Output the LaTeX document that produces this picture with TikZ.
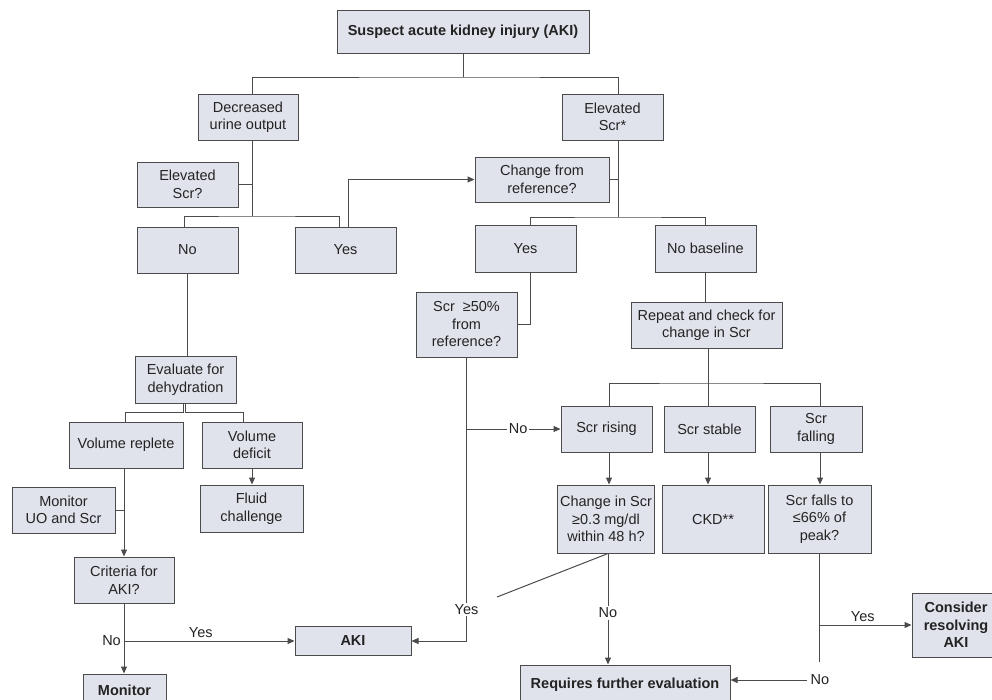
\documentclass[tikz,border=0pt]{standalone}
\usepackage{fontspec}
\setmainfont{Liberation Sans}
\usetikzlibrary{arrows.meta}
\definecolor{boxfill}{RGB}{225,227,236}
\definecolor{edge}{RGB}{75,75,75}
\definecolor{ink}{RGB}{35,35,35}

\begin{document}
\begin{tikzpicture}[x=1pt,y=-1pt,
  every node/.style={font=\fontsize{14.5}{17.5}\selectfont, text=ink},
  box/.style={draw=edge, fill=boxfill, line width=1pt, inner sep=1pt, align=center, anchor=center},
  sz/.style 2 args={minimum width=#1pt, minimum height=#2pt},
  link/.style={draw=edge, line width=1pt},
  arr/.style={link, -{Triangle[length=7pt,width=6pt]}},
  lbl/.style={fill=white, inner sep=1.5pt}
]
\useasboundingbox (0,0) rectangle (992,699);
\clip (0,0) rectangle (992,699);

% ---------- boxes ----------
\node[box, sz={252}{43}] (top) at (463,31.5) {\bfseries Suspect acute kidney injury (AKI)};
\node[box, sz={100}{46}] (duo) at (248,117) {Decreased\\urine output};
\node[box, sz={101}{46}] (es) at (612.5,117) {Elevated\\Scr*};
\node[box, sz={101}{45}] (esq) at (187.5,184.5) {Elevated\\Scr?};
\node[box, sz={134}{45}] (cfr) at (542,179.5) {Change from\\reference?};
\node[box, sz={101}{46}] (no1) at (187.5,250) {No};
\node[box, sz={101}{46}] (yes1) at (345.5,250) {Yes};
\node[box, sz={101}{47}] (yes2) at (525.5,248.5) {Yes};
\node[box, sz={101}{47}] (nob) at (705.5,248.5) {No baseline};
\node[box, sz={101}{65}] (s50) at (466.5,324.5) {Scr~~≥50\%\\from\\reference?};
\node[box, sz={151}{46}] (rep) at (706.5,325) {Repeat and check for\\change in Scr};
\node[box, sz={101}{47}] (evd) at (185.5,379.5) {Evaluate for\\dehydration};
\node[box, sz={114}{46}] (vr) at (126,445) {Volume replete};
\node[box, sz={100}{46}] (vd) at (252,445) {Volume\\deficit};
\node[box, sz={91}{46}] (rising) at (606.5,429) {Scr rising};
\node[box, sz={91}{46}] (stable) at (709.5,429) {Scr stable};
\node[box, sz={92}{46}] (falling) at (816,429) {Scr\\falling};
\node[box, sz={103}{46}] (mus) at (63.5,510) {Monitor\\UO and Scr};
\node[box, sz={103}{47}] (fc) at (251.5,508.5) {Fluid\\challenge};
\node[box, sz={97}{68}] (cis) at (606,519) {Change in Scr\\≥0.3 mg/dl\\within 48 h?};
\node[box, sz={102}{68}] (ckd) at (713,519) {CKD**};
\node[box, sz={103}{68}] (sff) at (819.5,519) {Scr falls to\\≤66\% of\\peak?};
\node[box, sz={100}{46}] (cfa) at (124,580) {Criteria for\\AKI?};
\node[box, sz={116}{29}] (aki) at (353,641) {\bfseries AKI};
\node[box, sz={88}{64}] (cra) at (956,625) {\bfseries Consider\\\bfseries resolving\\\bfseries AKI};
\node[box, sz={83}{32}] (mon) at (124.5,690) {\bfseries Monitor};
\node[box, sz={210}{40}] (rfe) at (625,685) {\bfseries Requires further evaluation};

% ---------- junction points ----------
\coordinate (j1) at (463,77);
\coordinate (j2) at (252,216);
\coordinate (j3) at (618,217);
\coordinate (j4) at (708,383);
\coordinate (dg) at (497,597);
\coordinate (sffend) at (819.5,662);

% ---------- top split ----------
\draw[link] (top.south) -- (j1);
\draw[link] ([xshift=4pt]duo.north) |- (j1) -| ([xshift=5.5pt]es.north);

% ---------- urine output branch ----------
\draw[link] ([xshift=4pt]duo.south) -- (j2);
\draw[link] (esq.east) -- (esq.east -| j2);
\draw[link] ([xshift=-3.5pt]no1.north) |- (j2) -| ([xshift=-6.5pt]yes1.north);
\draw[arr] ([xshift=2.5pt]yes1.north) |- (cfr.west);

% ---------- elevated Scr branch ----------
\draw[link] ([xshift=5.5pt]es.south) -- (j3);
\draw[link] (cfr.east) -- (cfr.east -| j3);
\draw[link] ([xshift=4.5pt]yes2.north) |- (j3) -| (nob.north);
\draw[link] ([xshift=4.5pt]yes2.south) |- (s50.east);
\draw[link] (nob.south) -- (nob.south |- rep.north);
\draw[link] (j4 |- rep.south) -- (j4);
\draw[link] ([xshift=2.5pt]rising.north) |- (j4) -| ([xshift=4pt]falling.north);
\draw[link] (j4) -- (j4 |- stable.north);
\draw[arr] ([xshift=2.5pt]rising.south) -- ([xshift=2.5pt]rising.south |- cis.north);
\draw[arr] (j4 |- stable.south) -- (j4 |- ckd.north);
\draw[arr] ([xshift=4pt]falling.south) -- ([xshift=4pt]falling.south |- sff.north);

% ---------- 50% decision ----------
\draw[arr] (s50.south) |- node[lbl, pos=0.444] {Yes} (aki.east);
\draw[arr] (s50.south |- rising.west) -- node[lbl, pos=0.55] {No} (rising.west);

% ---------- 0.3 mg/dl decision ----------
\draw[link] ([xshift=2pt]cis.south) -- (dg);
\draw[arr] ([xshift=2pt]cis.south) -- node[lbl, pos=0.536] {No} ([xshift=2pt]cis.south |- rfe.north);

% ---------- falling Scr decision ----------
\draw[link] (sff.south) -- (sffend);
\draw[arr] (sff.south |- cra.west) -- node[above, pos=0.47] {Yes} (cra.west);
\node (nolab) at (820,680) {No};
\draw[arr] (nolab.west) -- (nolab.west -| rfe.east);

% ---------- dehydration branch ----------
\draw[link] (no1.south) -- (no1.south |- evd.north);
\draw[link] ([xshift=-2.5pt]evd.south) -- ++(0,9) -| ([xshift=-1pt]vr.north);
\draw[link] ([xshift=-0.5pt]evd.south) -- ++(0,9) -| ([xshift=-9pt]vd.north);
\draw[arr] (vd.south) -- (vd.south |- fc.north);
\draw[arr] (cfa.north |- vr.south) -- (cfa.north);
\draw[link] (mus.east) -- (mus.east -| cfa.north);
\draw[arr] (cfa.south) -- (cfa.south |- mon.north);
\draw[arr] (cfa.south |- aki.west) -- node[above, pos=0.45] {Yes} (aki.west);
\node[left, inner sep=3pt] (nol) at (cfa.south |- aki.west) {No};
\end{tikzpicture}
\end{document}
